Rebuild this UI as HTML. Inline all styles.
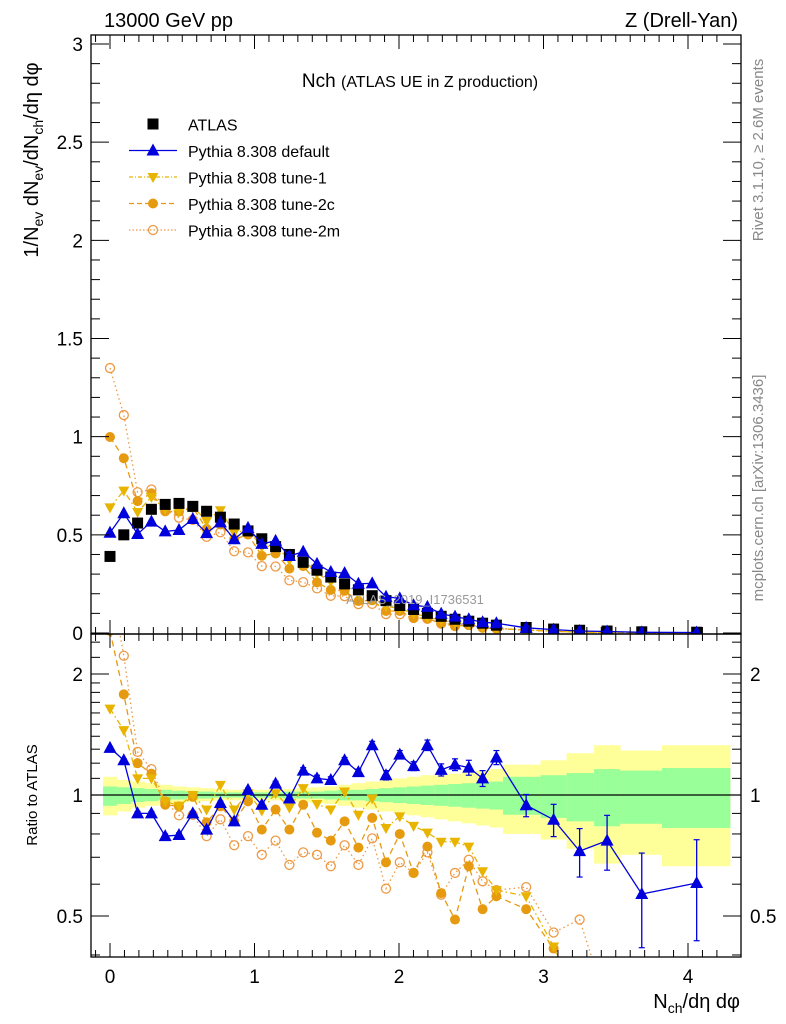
<!DOCTYPE html>
<html><head><meta charset="utf-8">
<style>
html,body{margin:0;padding:0;background:#fff;}
svg{display:block;font-family:"Liberation Sans",sans-serif;}
</style></head>
<body>
<svg id="chart" width="786" height="1024" viewBox="0 0 786 1024" xmlns="http://www.w3.org/2000/svg">
<defs>
<clipPath id="clipMain"><rect x="91" y="35" width="650" height="599"/></clipPath>
<clipPath id="clipRatio"><rect x="91" y="634" width="650" height="323"/></clipPath>
</defs>
<g id="bands" clip-path="url(#clipRatio)"></g>
<g id="mainMarks" clip-path="url(#clipMain)"></g>
<g id="ratioMarks" clip-path="url(#clipRatio)"></g>
<g id="axes"></g>
<text x="104" y="27" font-size="20">13000 GeV pp</text>
<text x="738" y="27" font-size="20" text-anchor="end">Z (Drell-Yan)</text>
<text x="420" y="87" font-size="19" text-anchor="middle">Nch <tspan font-size="16">(ATLAS UE in Z production)</tspan></text>
<text x="415" y="604" font-size="13" fill="#999" text-anchor="middle">ATLAS_2019_I1736531</text>
<text transform="translate(763,150) rotate(-90)" font-size="15" fill="#888" text-anchor="middle">Rivet 3.1.10, ≥ 2.6M events</text>
<text transform="translate(763,488) rotate(-90)" font-size="15" fill="#888" text-anchor="middle">mcplots.cern.ch [arXiv:1306.3436]</text>
<text transform="translate(38,160) rotate(-90)" font-size="20" text-anchor="middle">1/N<tspan font-size="14" dy="5">ev</tspan><tspan dy="-5"> dN</tspan><tspan font-size="14" dy="5">ev</tspan><tspan dy="-5">/dN</tspan><tspan font-size="14" dy="5">ch</tspan><tspan dy="-5">/dη dφ</tspan></text>
<text transform="translate(37,795) rotate(-90)" font-size="15" text-anchor="middle">Ratio to ATLAS</text>
<text x="740" y="1008" font-size="20" text-anchor="end">N<tspan font-size="14" dy="5">ch</tspan><tspan dy="-5">/dη dφ</tspan></text>
<g id="legend"></g>
</svg>
<script>
// ---- data ----
const xVals = [0,0.0955,0.191,0.2865,0.382,0.4775,0.573,0.6685,0.764,0.8595,0.955,1.0505,1.146,1.2415,1.337,1.4325,1.528,1.6235,1.719,1.8145,1.91,2.0055,2.101,2.1965,2.292,2.3875,2.483,2.5785,2.674,2.88,3.07,3.25,3.44,3.68,4.06];
const binLo  = [-0.048,0.048,0.143,0.239,0.334,0.430,0.525,0.621,0.716,0.812,0.907,1.003,1.098,1.194,1.289,1.385,1.480,1.576,1.671,1.767,1.862,1.958,2.053,2.149,2.244,2.340,2.435,2.531,2.626,2.72,2.98,3.16,3.35,3.53,3.82];
const binHi  = [0.048,0.143,0.239,0.334,0.430,0.525,0.621,0.716,0.812,0.907,1.003,1.098,1.194,1.289,1.385,1.480,1.576,1.671,1.767,1.862,1.958,2.053,2.149,2.244,2.340,2.435,2.531,2.626,2.72,2.98,3.16,3.35,3.53,3.82,4.29];
const atlas = [0.39,0.50,0.56,0.63,0.655,0.66,0.645,0.62,0.59,0.555,0.52,0.48,0.44,0.40,0.36,0.32,0.285,0.25,0.22,0.19,0.165,0.14,0.12,0.10,0.085,0.07,0.06,0.05,0.04,0.028,0.02,0.014,0.01,0.006,0.004];
const rDefault = [1.31,1.22,0.90,0.90,0.79,0.795,0.90,0.82,0.955,0.86,1.03,0.946,1.067,0.98,1.15,1.10,1.09,1.22,1.14,1.33,1.12,1.26,1.18,1.33,1.155,1.19,1.17,1.10,1.24,0.943,0.868,0.725,0.77,0.567,0.604];
const eDefault = [0.01,0.01,0.01,0.01,0.01,0.01,0.01,0.01,0.01,0.01,0.01,0.01,0.015,0.015,0.02,0.02,0.02,0.02,0.02,0.03,0.03,0.03,0.03,0.04,0.04,0.04,0.05,0.05,0.05,0.06,0.08,0.1,0.12,0.15,0.17];
const rTune1 = [1.64,1.45,1.10,1.10,0.964,0.94,1.0,0.92,1.06,0.92,1.01,0.915,1.01,0.93,1.04,0.95,0.92,1.02,0.893,0.98,0.828,0.885,0.838,0.806,0.765,0.765,0.744,0.646,0.58,0.56,0.42,0.3,0.3,0.3,0.3];
const rTune2c = [2.56,1.78,1.20,1.13,0.946,0.937,0.99,0.855,0.937,0.86,0.964,0.82,0.92,0.82,0.946,0.806,0.77,0.86,0.74,0.877,0.68,0.80,0.64,0.744,0.57,0.49,0.665,0.52,0.56,0.52,0.415,0.3,0.3,0.3,0.3];
const rTune2m = [3.46,2.22,1.28,1.16,0.964,0.89,0.893,0.79,0.87,0.75,0.79,0.71,0.77,0.67,0.72,0.71,0.665,0.75,0.67,0.78,0.585,0.68,0.64,0.72,0.565,0.64,0.69,0.61,0.58,0.59,0.455,0.49,0.3,0.3,0.3];
const yellowUp = [1.11,1.09,1.08,1.07,1.06,1.05,1.045,1.04,1.035,1.03,1.03,1.03,1.03,1.035,1.04,1.045,1.05,1.06,1.07,1.08,1.09,1.10,1.11,1.12,1.12,1.13,1.14,1.15,1.16,1.19,1.22,1.27,1.33,1.29,1.33];
const yellowDn = [0.89,0.91,0.93,0.94,0.95,0.955,0.96,0.965,0.97,0.97,0.97,0.97,0.97,0.965,0.96,0.955,0.95,0.94,0.93,0.92,0.91,0.90,0.89,0.88,0.87,0.86,0.85,0.84,0.83,0.80,0.775,0.735,0.675,0.71,0.665];
const greenUp = [1.05,1.045,1.04,1.035,1.03,1.025,1.02,1.02,1.015,1.015,1.015,1.015,1.015,1.02,1.02,1.02,1.025,1.03,1.03,1.035,1.04,1.045,1.05,1.055,1.06,1.065,1.07,1.075,1.08,1.11,1.12,1.134,1.16,1.15,1.167];
const greenDn = [0.94,0.95,0.96,0.965,0.97,0.975,0.98,0.98,0.985,0.985,0.985,0.985,0.985,0.98,0.98,0.98,0.975,0.97,0.97,0.965,0.96,0.955,0.95,0.945,0.94,0.935,0.93,0.925,0.92,0.893,0.877,0.86,0.836,0.848,0.828];
const mainTicks = [0,0.5,1,1.5,2,2.5,3];
const mainTickLabels = ["0","0.5","1","1.5","2","2.5","3"];
const ratioTicks = [0.5,1,2];
const ratioTickLabels = ["0.5","1","2"];
const xTicks = [0,1,2,3,4];
const xTickLabels = ["0","1","2","3","4"];

// ---- axes functions ----
const L=91,R=741,T=35,MB=634,B=957;
function X(v){return 110+v*144.5;}
function Y(v){return 633-v*196.33;}
function RY(v){return 795-Math.log10(v)*402;}
const NS="http://www.w3.org/2000/svg";
function mk(tag,attrs,parent){const e=document.createElementNS(NS,tag);for(const k in attrs)e.setAttribute(k,attrs[k]);parent.appendChild(e);return e;}

const bands=document.getElementById('bands');
for(let i=0;i<xVals.length;i++){
  const y=mk('rect',{x:X(binLo[i]),y:RY(yellowUp[i]),width:X(binHi[i])-X(binLo[i])+0.5,height:RY(yellowDn[i])-RY(yellowUp[i]),fill:'#ffff99'},bands);
  
  
  const g=mk('rect',{x:X(binLo[i]),y:RY(greenUp[i]),width:X(binHi[i])-X(binLo[i])+0.5,height:RY(greenDn[i])-RY(greenUp[i]),fill:'#99ff99'},bands);
  
  
}
const one=mk('line',{x1:L,x2:R,y1:RY(1),y2:RY(1),stroke:'#000','stroke-width':1.3},bands);



function marker(type,cx,cy,color,parent,name){
  let e;
  if(type==='square') e=mk('rect',{x:cx-5.5,y:cy-5.5,width:11,height:11,fill:color},parent);
  else if(type==='up') e=mk('polygon',{points:`${cx},${cy-7} ${cx-6.5},${cy+5} ${cx+6.5},${cy+5}`,fill:color},parent);
  else if(type==='down') e=mk('polygon',{points:`${cx},${cy+6} ${cx-5.5},${cy-4} ${cx+5.5},${cy-4}`,fill:color},parent);
  else if(type==='dot') e=mk('circle',{cx:cx,cy:cy,r:5,fill:color},parent);
  else e=mk('circle',{cx:cx,cy:cy,r:4.5,fill:'none',stroke:color,'stroke-width':1.3},parent);
  
  
}
const series=[
  {r:rTune2m,color:'#ee9944',type:'open',dash:'1.5,3',name:'tune-2m'},
  {r:rTune2c,color:'#e69a10',type:'dot',dash:'6,4',name:'tune-2c'},
  {r:rTune1,color:'#e8b400',type:'down',dash:'6,3,1.5,3',name:'tune-1'},
  {r:rDefault,color:'#0000dd',type:'up',dash:'',name:'default',err:eDefault}
];
const mainG=document.getElementById('mainMarks'), ratioG=document.getElementById('ratioMarks');
series.forEach(s=>{
  if(s.name==='default'){
    xVals.forEach((x,i)=>marker('square',X(x),Y(atlas[i]),'#000',mainG,'atlas-point'));
  }
  const pm=xVals.map((x,i)=>X(x)+','+Y(atlas[i]*s.r[i])).join(' ');
  const l=mk('polyline',{points:pm,fill:'none',stroke:s.color,'stroke-width':1.3,'stroke-dasharray':s.dash},mainG);
  
  
  const pr=xVals.map((x,i)=>X(x)+','+RY(s.r[i])).join(' ');
  const lr=mk('polyline',{points:pr,fill:'none',stroke:s.color,'stroke-width':1.3,'stroke-dasharray':s.dash},ratioG);
  
  
  xVals.forEach((x,i)=>{
    if(s.err){
      const e=mk('line',{x1:X(x),x2:X(x),y1:RY(s.r[i]+s.err[i]),y2:RY(s.r[i]-s.err[i]),stroke:s.color,'stroke-width':1.3},ratioG);
      
      
      mk('line',{x1:X(x)-3,x2:X(x)+3,y1:RY(s.r[i]+s.err[i]),y2:RY(s.r[i]+s.err[i]),stroke:s.color,'stroke-width':1.2},ratioG);
      mk('line',{x1:X(x)-3,x2:X(x)+3,y1:RY(s.r[i]-s.err[i]),y2:RY(s.r[i]-s.err[i]),stroke:s.color,'stroke-width':1.2},ratioG);
    }
    marker(s.type,X(x),Y(atlas[i]*s.r[i]),s.color,mainG,s.name+'-point');
    marker(s.type,X(x),RY(s.r[i]),s.color,ratioG,s.name+'-ratio-point');
  });
});
// axes
const ax=document.getElementById('axes');
function ln(x1,y1,x2,y2,w){return mk('line',{x1:x1,y1:y1,x2:x2,y2:y2,stroke:'#000','stroke-width':w||1},ax);}
const f1=mk('rect',{x:L,y:T,width:R-L,height:MB-T,fill:'none',stroke:'#000','stroke-width':1.3},ax);


const f2=mk('rect',{x:L,y:MB,width:R-L,height:B-MB,fill:'none',stroke:'#000','stroke-width':1.3},ax);


for(let v=-0.1;v<=4.3;v+=0.1){
  const vv=Math.round(v*10)/10, major=Math.abs(vv-Math.round(vv))<1e-6, len=major?14:7, x=X(vv);
  if(x<L||x>R) continue;
  ln(x,T,x,T+len);ln(x,MB,x,MB-len);ln(x,MB,x,MB+len);ln(x,B,x,B-len);
}
for(let v=0;v<=3.04;v+=0.1){
  const vv=Math.round(v*10)/10, major=Math.abs(vv*2-Math.round(vv*2))<1e-6, len=major?18:9, y=Y(vv);
  ln(L,y,L+len,y);ln(R,y,R-len,y);
}
[0.4,0.5,0.6,0.7,0.8,0.9,1,1.1,1.2,1.3,1.4,1.5,1.6,1.7,1.8,1.9,2,2.2,2.4].forEach(v=>{
  const major=(v===0.5||v===1||v===2), len=major?18:9, y=RY(v);
  if(y<MB||y>B) return;
  ln(L,y,L+len,y);ln(R,y,R-len,y);
});
mainTicks.forEach((v,i)=>{const t=mk('text',{x:83,y:Y(v)+7,'font-size':19,'text-anchor':'end'},ax);t.textContent=mainTickLabels[i];
  
  });
ratioTicks.forEach((v,i)=>{
  const t=mk('text',{x:83,y:RY(v)+7,'font-size':19,'text-anchor':'end'},ax);t.textContent=ratioTickLabels[i];
  
  
  const t2=mk('text',{x:750,y:RY(v)+7,'font-size':19},ax);t2.textContent=ratioTickLabels[i];
  
  
});
xTicks.forEach((v,i)=>{const t=mk('text',{x:X(v),y:983,'font-size':19,'text-anchor':'middle'},ax);t.textContent=xTickLabels[i];
  
  });
// legend
const lg=document.getElementById('legend');
const legItems=[
  {label:'ATLAS',type:'square',color:'#000',dash:null},
  {label:'Pythia 8.308 default',type:'up',color:'#0000dd',dash:''},
  {label:'Pythia 8.308 tune-1',type:'down',color:'#e8b400',dash:'4,2,1,2'},
  {label:'Pythia 8.308 tune-2c',type:'dot',color:'#e69a10',dash:'5,3'},
  {label:'Pythia 8.308 tune-2m',type:'open',color:'#ee9944',dash:'1.5,2'}
];
legItems.forEach((it,i)=>{
  const y=124+i*26.5;
  const g=mk('g',{},lg);
  
  
  if(it.dash!==null) mk('line',{x1:129,x2:177,y1:y,y2:y,stroke:it.color,'stroke-width':1.3,'stroke-dasharray':it.dash},g);
  marker(it.type,153,y,it.color,g,'legend-marker');
  const t=mk('text',{x:188,y:y+6.5,'font-size':16},g);t.textContent=it.label;
});
</script>
</body></html>
